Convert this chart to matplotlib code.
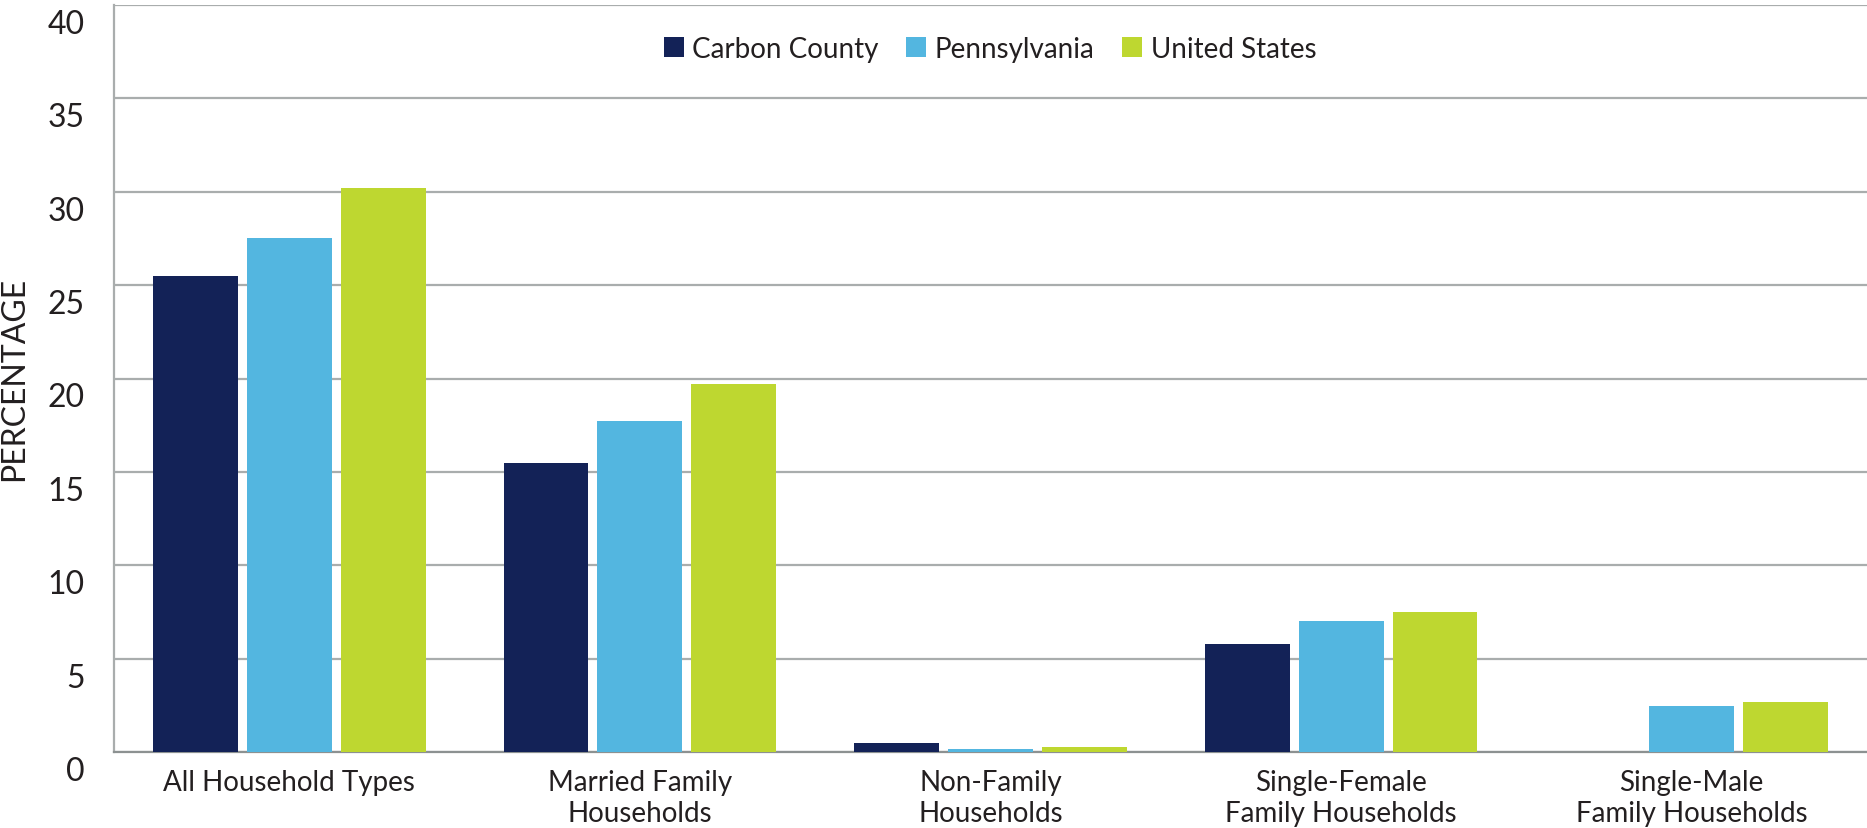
import numpy as np
import matplotlib
matplotlib.use("Agg")
import matplotlib.pyplot as plt
from matplotlib.transforms import ScaledTranslation

plt.rcParams["font.family"] = ["Lato", "DejaVu Sans"]

categories = ["All Household Types", "Married Family\nHouseholds", "Non-Family\nHouseholds",
              "Single-Female\nFamily Households", "Single-Male\nFamily Households"]
series_names = ["Carbon County", "Pennsylvania", "United States"]
carbon = [25.5, 15.5, 0.5, 5.8, 0.0]
penn = [27.5, 17.7, 0.17, 7.0, 2.46]
us = [30.2, 19.7, 0.27, 7.5, 2.68]
colors = ["#132257", "#53b6e0", "#bed730"]
yticks = [0, 5, 10, 15, 20, 25, 30, 35, 40]

W, H = 1867, 829
fig = plt.figure(figsize=(W / 100, H / 100), dpi=100)
ax = fig.add_axes([114 / W, 76 / H, 1753 / W, 747 / H])

x = np.arange(len(categories))
step = 94 / 351
width = 85 / 351
for i, (vals, name) in enumerate(zip([carbon, penn, us], series_names)):
    ax.bar(x + (i - 1) * step, vals, width=width, color=colors[i], label=name, zorder=3)

ax.set_xlim(-0.5, 4.5)
ax.set_ylim(0, 40)
ax.set_yticks(yticks)
ax.yaxis.grid(True, color="#a9adad", lw=1.6)
ax.set_axisbelow(True)

for s in ["top", "right"]:
    ax.spines[s].set_visible(False)
ax.spines["left"].set_color("#a9adad")
ax.spines["left"].set_linewidth(1.6)
ax.spines["bottom"].set_color("#8c9191")
ax.spines["bottom"].set_linewidth(1.6)

ax.tick_params(axis="y", length=0, pad=21, labelsize=23, labelcolor="#231f20")
ax.tick_params(axis="x", length=0, pad=12, labelsize=20, labelcolor="#231f20")
ax.set_xticks(x)
ax.set_xticklabels(categories, linespacing=1.25)

off = ScaledTranslation(0, -16 / 100, fig.dpi_scale_trans)
for lab in ax.get_yticklabels():
    lab.set_transform(lab.get_transform() + off)

fig.text(14 / W, 1 - 379 / H, "PERCENTAGE", rotation=90, ha="center", va="center",
         fontsize=23, color="#231f20")

leg = fig.legend(loc="center", bbox_to_anchor=(990 / W, 1 - 50 / H), ncol=3,
                 frameon=False, fontsize=20, handlelength=0.72, handleheight=0.72,
                 handletextpad=0.3, columnspacing=1.0)
for t in leg.get_texts():
    t.set_color("#231f20")

fig.savefig("out.png", dpi=100)
